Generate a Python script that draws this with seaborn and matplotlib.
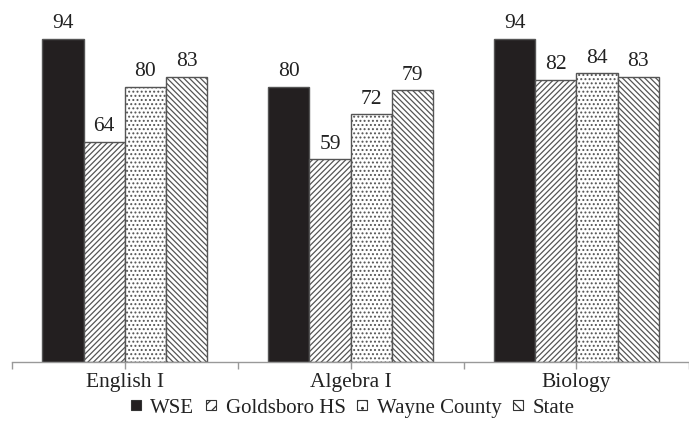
import matplotlib
matplotlib.use("Agg")
import matplotlib.pyplot as plt
import seaborn as sns
import pandas as pd
from matplotlib.patches import Patch

subjects = ["English I", "Algebra I", "Biology"]
groups = ["WSE", "Goldsboro HS", "Wayne County", "State"]
wse = [94, 80, 94]
goldsboro = [64, 59, 82]
wayne = [80, 72, 84]
state = [83, 79, 83]

rows = []
for g, vals in zip(groups, [wse, goldsboro, wayne, state]):
    for s, v in zip(subjects, vals):
        rows.append({"Subject": s, "Group": g, "Value": v})
df = pd.DataFrame(rows)

sns.set_theme(style="white")
plt.rcParams["font.family"] = ["Liberation Serif", "DejaVu Serif"]
plt.rcParams["hatch.linewidth"] = 0.9

fig = plt.figure(figsize=(6.89, 4.21), dpi=100)
ax = fig.add_axes([0.0174, 0.140, 0.983, 0.817])

fills = ["#231f20", "white", "white", "white"]
hatches = [None, "//////", "....", "\\\\\\\\\\\\"]
edge = "#555555"

sns.barplot(data=df, x="Subject", y="Value", hue="Group", order=subjects,
            hue_order=groups, palette=fills, width=0.73, ax=ax,
            edgecolor=edge, linewidth=1.0, legend=False, saturation=1)

for cont, h in zip(ax.containers, hatches):
    for bar in cont:
        if h:
            bar.set_hatch(h)
            if h == "....":
                try:
                    bar.set_hatchcolor("#888888")
                except Exception:
                    pass
    ax.bar_label(cont, fontsize=15.5, padding=4, color="#222222")

ax.set_ylim(0, 100)
ax.set_xlim(-0.5, 2.5)
ax.set_xlabel("")
ax.set_ylabel("")
ax.set_yticks([])
for sp in ["top", "right", "left"]:
    ax.spines[sp].set_visible(False)
ax.spines["bottom"].set_color("#999999")
ax.spines["bottom"].set_linewidth(1.0)
ax.set_xticks([-0.5, 0, 0.5, 1, 1.5, 2, 2.5])
ax.set_xticklabels(["", "English I", "", "Algebra I", "", "Biology", ""], fontsize=15.5, color="#222222")
ax.tick_params(axis="x", bottom=True, length=5, color="#999999", width=1.0, pad=3)

leg_hatch = [None, "///", "..", "\\\\\\"]
handles = [Patch(facecolor=f, edgecolor="#333333", hatch=h, linewidth=0.8)
           for f, h in zip(fills, leg_hatch)]
fig.legend(handles, groups, loc="center", bbox_to_anchor=(0.512, 0.03), ncol=4,
           frameon=False, fontsize=15, handlelength=0.5, handleheight=0.36,
           handletextpad=0.45, columnspacing=0.55, labelcolor="#222222")

fig.savefig("out.png", dpi=100)
